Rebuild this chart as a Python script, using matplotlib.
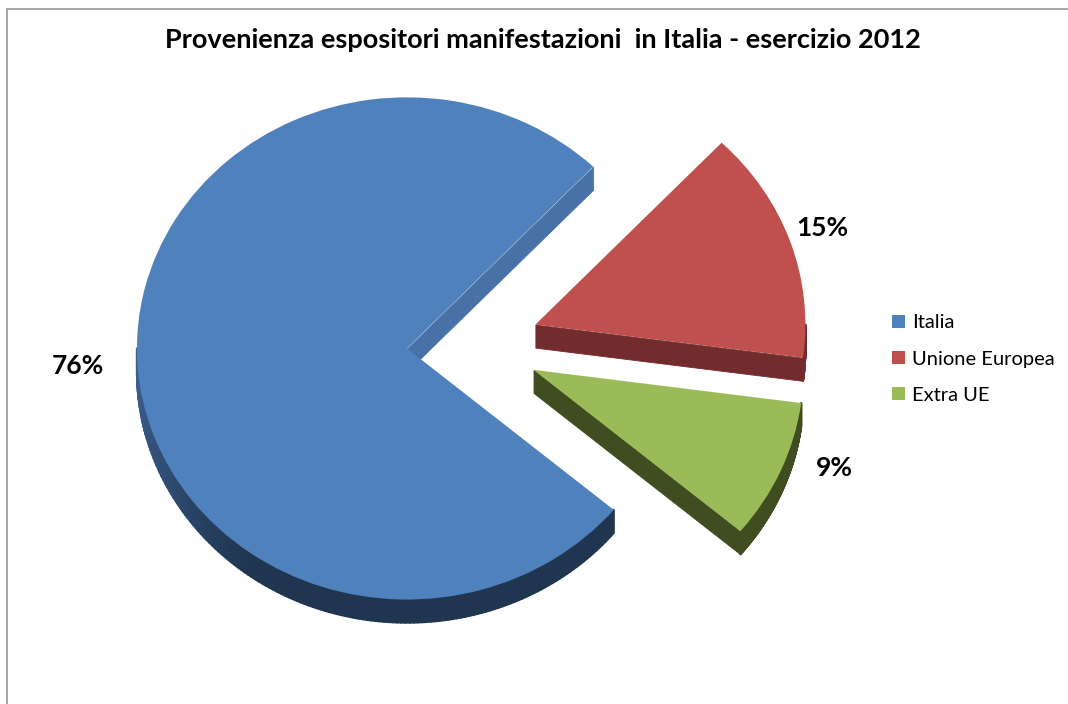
import numpy as np
import matplotlib
matplotlib.use("Agg")
import matplotlib.pyplot as plt
from matplotlib.collections import PolyCollection
from matplotlib.lines import Line2D
from matplotlib.colors import to_rgb

plt.rcParams['font.family'] = ['Lato', 'DejaVu Sans']

categories = ["Italia", "Unione Europea", "Extra UE"]
shares = [76, 15, 9]

top_colors = ["#4F81BD", "#C0504D", "#9BBB59"]
side_colors = ["#1F3550", "#722C2D", "#3F4D21"]
cut_colors = ["#4872A7", "#722C2D", "#3F4D21"]

W, H = 1068, 704
R_PX = 270          # pie radius in pixels
SQUASH = 0.93       # vertical squash of the tilted disc
DEPTH = 0.092       # thickness of the disc, data units
CX, CY = 473, 345   # pie origin in pixels (from top-left)

# per-slice placement of the percentage labels (radius factor, extra turn in deg)
label_dist = [1.22, 1.13, 1.18]
label_turn = [0.0, 0.5, 4.5]

fig = plt.figure(figsize=(W / 100, H / 100), dpi=100)
ax = fig.add_axes([0, 0, 1, 1])

wedges, _, pct = ax.pie(
    shares, colors=top_colors, startangle=-40, counterclock=False,
    explode=[0.245] * 3, autopct="%1.0f%%", pctdistance=1.18,
    wedgeprops=dict(linewidth=0, zorder=3),
    textprops=dict(fontsize=19, fontweight="bold", color="black"),
)

# pixel extents mapped into pie units, y squashed for the tilt
ax.set_aspect("auto")
ax.set_xlim(-CX / R_PX, (W - CX) / R_PX)
ax.set_ylim(-(H - CY) / (R_PX * SQUASH), CY / (R_PX * SQUASH))
ax.axis("off")

for w, t, d, turn in zip(wedges, pct, label_dist, label_turn):
    mid = np.radians(0.5 * (w.theta1 + w.theta2) + turn)
    t.set_position((w.center[0] + d * w.r * np.cos(mid),
                    w.center[1] + d * w.r * np.sin(mid)))

# sides of the disc: outer rim (front half only) and the visible cut faces
for i, w in enumerate(wedges):
    cx, cy = w.center
    r = w.r
    t = np.linspace(w.theta1, w.theta2, 300)
    front = t[np.sin(np.radians(t)) <= 0.001]
    polys, cols = [], []
    for a0, a1 in zip(front[:-1], front[1:]):
        p0 = (cx + r * np.cos(np.radians(a0)), cy + r * np.sin(np.radians(a0)))
        p1 = (cx + r * np.cos(np.radians(a1)), cy + r * np.sin(np.radians(a1)))
        polys.append([p0, p1, (p1[0], p1[1] - DEPTH), (p0[0], p0[1] - DEPTH)])
        if i == 0:
            deg = np.mod(0.5 * (a0 + a1), 360)
            k = np.clip((235 - deg) / 55, 0, 1)
            lo = np.array(to_rgb(side_colors[0]))
            hi = np.array(to_rgb("#3E6394"))
            cols.append(tuple(lo + (hi - lo) * k))
        else:
            cols.append(side_colors[i])
    if polys:
        ax.add_collection(PolyCollection(polys, facecolors=cols, edgecolors=cols,
                                         linewidths=1.5, zorder=1))

    for edge, normal in ((w.theta1, w.theta1 - 90), (w.theta2, w.theta2 + 90)):
        if np.sin(np.radians(normal)) < 0:
            ex = cx + r * np.cos(np.radians(edge))
            ey = cy + r * np.sin(np.radians(edge))
            quad = [(cx, cy), (ex, ey), (ex, ey - DEPTH), (cx, cy - DEPTH)]
            ax.add_collection(PolyCollection([quad], facecolors=cut_colors[i],
                                             edgecolors=cut_colors[i],
                                             linewidths=0.6, zorder=2))

ax.legend(wedges, categories, loc="center left", bbox_to_anchor=(892 / W, 1 - 359 / H),
          bbox_transform=fig.transFigure, frameon=False, fontsize=14.5,
          borderpad=0, borderaxespad=0,
          handlelength=0.65, handleheight=0.65, handletextpad=0.35, labelspacing=0.95)

fig.text(543 / W, 1 - 40 / H,
         "Provenienza espositori manifestazioni  in Italia - esercizio 2012",
         ha="center", va="center", fontsize=19.5, fontweight="bold")

# chart frame, running off the right and bottom edges
fig.add_artist(Line2D([6.5 / W, 6.5 / W], [0, 1 - 9 / H], transform=fig.transFigure,
                      color="#A0A0A0", linewidth=1.3))
fig.add_artist(Line2D([6.5 / W, 1], [1 - 9 / H, 1 - 9 / H], transform=fig.transFigure,
                      color="#A0A0A0", linewidth=1.3))

fig.savefig("out.png", dpi=100)
